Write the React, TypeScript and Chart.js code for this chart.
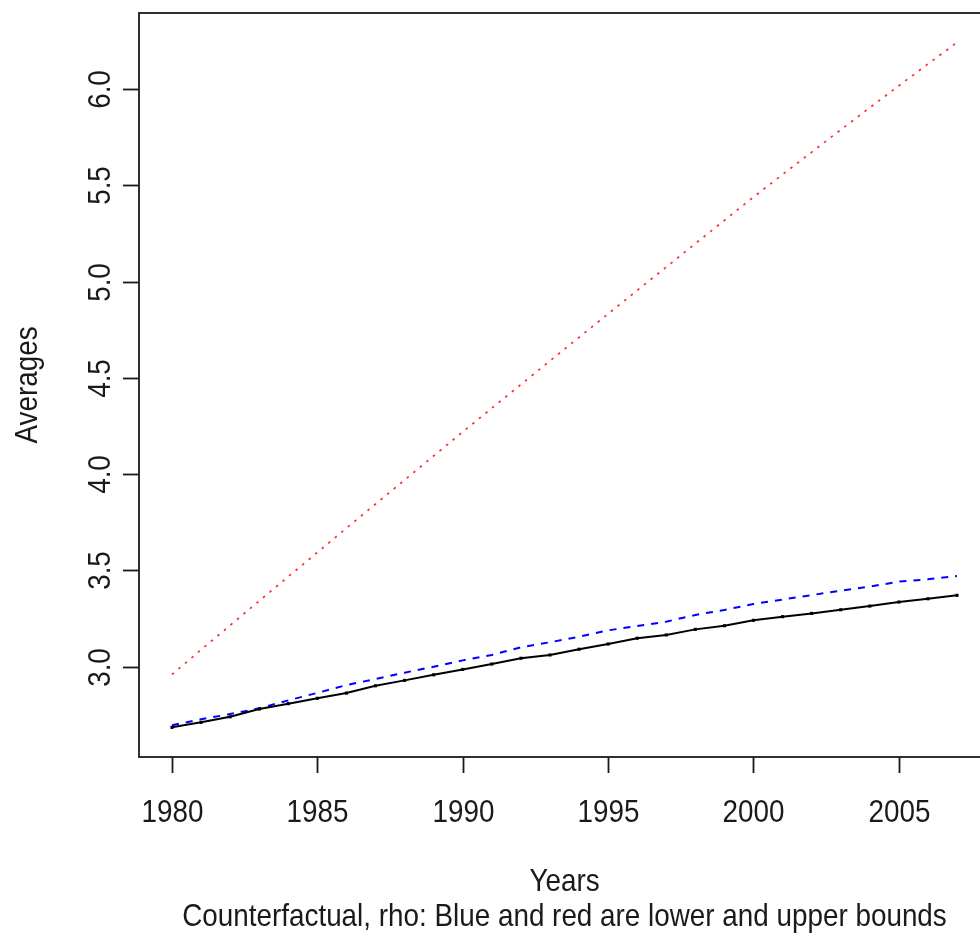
import React, { useEffect, useRef } from "react";
import { Chart, registerables } from "chart.js";

Chart.register(...registerables);

const years = [
  1980, 1981, 1982, 1983, 1984, 1985, 1986, 1987, 1988, 1989,
  1990, 1991, 1992, 1993, 1994, 1995, 1996, 1997, 1998, 1999,
  2000, 2001, 2002, 2003, 2004, 2005, 2006, 2007,
];

const observed = [
  2.685, 2.711, 2.740, 2.780, 2.808, 2.836, 2.863, 2.901, 2.929, 2.958,
  2.986, 3.014, 3.044, 3.061, 3.091, 3.118, 3.148, 3.165, 3.194, 3.213,
  3.241, 3.260, 3.277, 3.296, 3.315, 3.336, 3.353, 3.371,
];

const lowerBound = [
  2.696, 2.727, 2.754, 2.784, 2.825, 2.864, 2.905, 2.936, 2.969, 3.000,
  3.033, 3.061, 3.101, 3.127, 3.156, 3.189, 3.211, 3.234, 3.269, 3.295,
  3.326, 3.349, 3.372, 3.395, 3.416, 3.442, 3.454, 3.471,
];

const upperBound = [
  2.960, 3.088, 3.215, 3.342, 3.468, 3.594, 3.720, 3.845, 3.970, 4.095,
  4.220, 4.343, 4.466, 4.589, 4.711, 4.833, 4.955, 5.076, 5.198, 5.319,
  5.440, 5.557, 5.673, 5.789, 5.904, 6.018, 6.131, 6.243,
];

const xTicks = [1980, 1985, 1990, 1995, 2000, 2005];
const yTicks = [3.0, 3.5, 4.0, 4.5, 5.0, 5.5, 6.0];

const xTitle = "Years";
const yTitle = "Averages";
const subTitle = "Counterfactual, rho: Blue and red are lower and upper bounds";

const FONT = '32px "Liberation Sans", Arial, sans-serif';
const SQUEEZE = 0.87;
const INK = "#1a1a1a";

function drawText(
  ctx: CanvasRenderingContext2D,
  text: string,
  x: number,
  y: number,
  rotate = false
) {
  ctx.save();
  ctx.translate(x, y);
  if (rotate) ctx.rotate(-Math.PI / 2);
  ctx.scale(SQUEEZE, 1);
  ctx.fillText(text, 0, 0);
  ctx.restore();
}

const rAxes = {
  id: "rAxes",
  afterDraw(chart: any) {
    const { ctx, chartArea: a, scales } = chart;
    const x = scales.x;
    const y = scales.y;
    ctx.save();
    ctx.strokeStyle = INK;
    ctx.lineWidth = 1.8;
    ctx.strokeRect(a.left, a.top, a.right - a.left, a.bottom - a.top);

    ctx.fillStyle = INK;
    ctx.font = FONT;
    ctx.textAlign = "center";
    ctx.textBaseline = "middle";

    xTicks.forEach((v) => {
      const px = Math.round(x.getPixelForValue(v)) + 0.5;
      ctx.beginPath();
      ctx.moveTo(px, a.bottom);
      ctx.lineTo(px, a.bottom + 16);
      ctx.stroke();
      drawText(ctx, String(v), px, a.bottom + 56);
    });

    yTicks.forEach((v) => {
      const py = Math.round(y.getPixelForValue(v)) + 0.5;
      ctx.beginPath();
      ctx.moveTo(a.left - 16, py);
      ctx.lineTo(a.left, py);
      ctx.stroke();
      drawText(ctx, v.toFixed(1), a.left - 38, py, true);
    });

    const cx = (a.left + a.right) / 2;
    drawText(ctx, xTitle, cx, a.bottom + 125);
    drawText(ctx, subTitle, cx, a.bottom + 160);
    drawText(ctx, yTitle, 28, (a.top + a.bottom) / 2, true);
    ctx.restore();
  },
};

export default function App() {
  const canvasRef = useRef<HTMLCanvasElement | null>(null);

  useEffect(() => {
    const canvas = canvasRef.current;
    if (!canvas) return;
    const toPoints = (vals: number[]) =>
      years.map((yr, i) => ({ x: yr, y: vals[i] }));

    const chart = new Chart(canvas, {
      type: "line",
      data: {
        datasets: [
          {
            label: "Observed",
            data: toPoints(observed),
            borderColor: "#000000",
            borderWidth: 2,
            pointRadius: 2.2,
            pointStyle: "rect",
            pointBackgroundColor: "#000000",
            pointBorderWidth: 0,
            order: 1,
          },
          {
            label: "Lower bound",
            data: toPoints(lowerBound),
            borderColor: "#0000ff",
            borderWidth: 2,
            borderDash: [7, 7],
            pointRadius: 0,
            order: 2,
          },
          {
            label: "Upper bound",
            data: toPoints(upperBound),
            borderColor: "#ff2a2a",
            borderWidth: 1.7,
            borderDash: [2.5, 6],
            pointRadius: 0,
            order: 3,
          },
        ],
      },
      options: {
        responsive: false,
        animation: false,
        devicePixelRatio: 1,
        layout: { padding: { left: 139, top: 13, right: 10, bottom: 179 } },
        plugins: {
          legend: { display: false },
          tooltip: { enabled: false },
        },
        elements: { line: { tension: 0 } },
        scales: {
          x: { type: "linear", display: false, min: 1978.865, max: 2008.135 },
          y: { type: "linear", display: false, min: 2.531, max: 6.396 },
        },
      },
      plugins: [rAxes],
    });

    return () => chart.destroy();
  }, []);

  return (
    <div
      style={{
        position: "absolute",
        left: 0,
        top: 0,
        width: 980,
        height: 936,
        overflow: "hidden",
        background: "#ffffff",
      }}
    >
      <canvas
        ref={canvasRef}
        width={1000}
        height={936}
        style={{ width: 1000, height: 936, display: "block" }}
      />
    </div>
  );
}
